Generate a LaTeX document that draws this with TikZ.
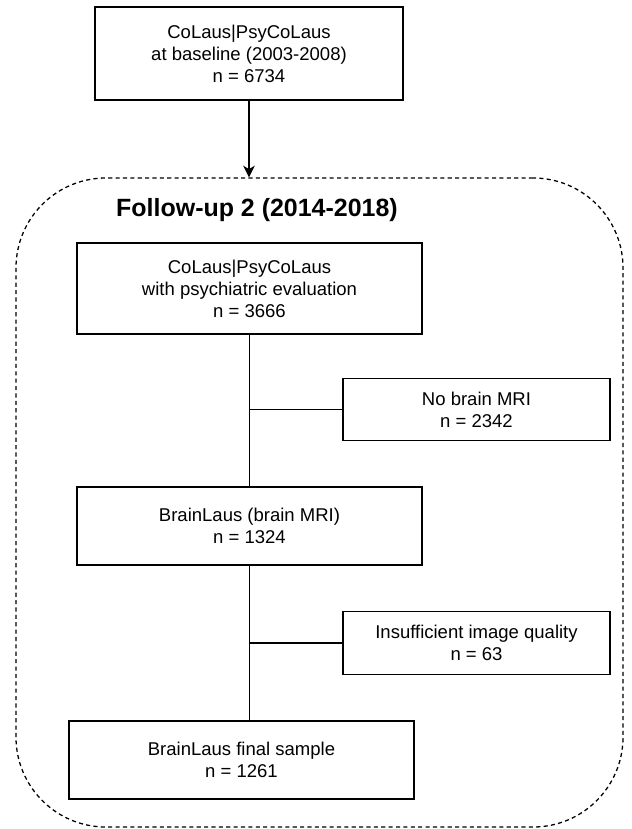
\documentclass[tikz,border=0pt]{standalone}
\usepackage{fontspec}
\setmainfont{Liberation Sans}
\usetikzlibrary{arrows.meta}

\begin{document}
\begin{tikzpicture}[x=0.03cm,y=-0.03cm,
        box/.style={draw,line width=1pt,align=center,inner sep=0pt,
            font=\fontsize{15.8}{18.7}\selectfont},
        sidebox/.style={box,minimum width=8.01cm,minimum height=1.88cm},
        link/.style={line width=1pt}]
    \useasboundingbox (0,0) rectangle (631,829);
    % Follow-up frame: dashed, with large rounded corners
    \node[draw,line width=1.1pt,dash pattern=on 3.5pt off 2.8pt,
        rounded corners=2.7cm,minimum width=18.21cm,minimum height=19.47cm]
        (fu) at (319.5,502.5) {};
    \node[font=\fontsize{21.3}{25}\bfseries\selectfont] (futitle) at (257,210)
        {Follow-up 2 (2014-2018)};
    % Baseline
    \node[box,minimum width=9.24cm,minimum height=2.79cm] (base) at (249,53.5)
        {CoLaus|PsyCoLaus\\at baseline (2003-2008)\\n = 6734};
    % Main flow inside the frame
    \node[box,minimum width=10.35cm,minimum height=2.73cm] (eval) at (249.5,288.5)
        {CoLaus|PsyCoLaus\\with psychiatric evaluation\\n = 3666};
    \node[box,minimum width=10.35cm,minimum height=2.34cm] (mri) at (249.5,526)
        {BrainLaus (brain MRI)\\n = 1324};
    \node[box,minimum width=10.35cm,minimum height=2.34cm] (final) at (241.5,760)
        {BrainLaus final sample\\n = 1261};
    % Exclusions
    \node[sidebox] (nomri) at (476.5,409.5) {No brain MRI\\n = 2342};
    \node[sidebox] (quality) at (476.5,643) {Insufficient image quality\\n = 63};
    % Connectors
    \draw[link,-{Stealth[length=10pt,width=10pt,inset=3pt]}] (base.south) -- (fu.north -| base.south);
    \draw[link] (eval.south) -- (mri.north);
    \draw[link] (mri.south) -- (mri.south |- final.north);
    \draw[link] (nomri.west) -- (nomri.west -| eval.south);
    \draw[link] (quality.west) -- (quality.west -| mri.south);
\end{tikzpicture}
\end{document}
